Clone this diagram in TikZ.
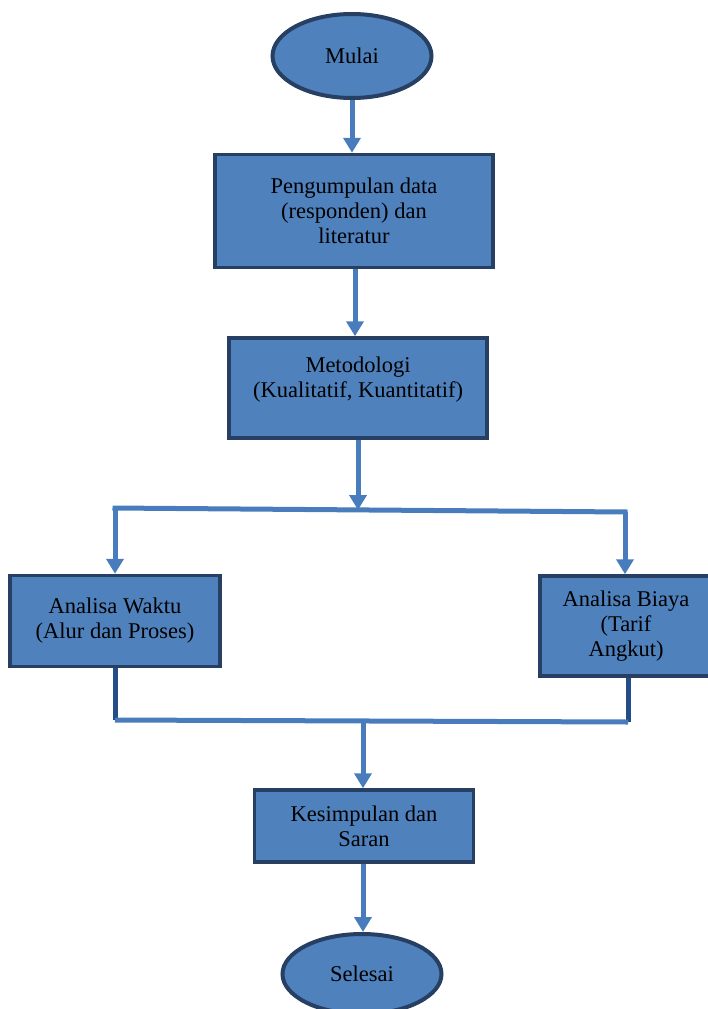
\documentclass[tikz,border=0pt]{standalone}
\usepackage{fontspec}
\setmainfont{Liberation Serif}
\usepackage{tikz}
\usetikzlibrary{arrows.meta,positioning,shapes.geometric,calc}
\definecolor{boxblue}{RGB}{79,129,189}
\definecolor{boxedge}{RGB}{38,63,99}
\definecolor{arrowblue}{RGB}{72,124,188}
\definecolor{joinblue}{RGB}{36,76,136}

\begin{document}
\begin{tikzpicture}[x=1pt,y=-1pt,
    flowbox/.style={rectangle, draw=boxedge, fill=boxblue, line width=3.5pt,
        align=center, inner sep=2pt, font=\fontsize{22.5}{25}\selectfont},
    termbox/.style={ellipse, draw=boxedge, fill=boxblue, line width=4pt,
        inner sep=0pt, font=\fontsize{22.5}{25}\selectfont},
    flowarrow/.style={draw=arrowblue, line width=5pt,
        -{Triangle[length=15pt,width=17pt]}},
    flowline/.style={draw=arrowblue, line width=5pt},
    joinline/.style={draw=joinblue, line width=5pt}]
    \useasboundingbox (0,0) rectangle (708,1009);

    % Nodes
    \node[termbox, minimum width=159pt, minimum height=84pt] (mulai) at (352,56) {Mulai};
    \node[flowbox, minimum width=278pt, minimum height=113pt] (data) at (354,211)
        {Pengumpulan data\\(responden) dan\\literatur};
    \node[flowbox, minimum width=258pt, minimum height=100pt] (metode) at (358,388)
        {Metodologi\\(Kualitatif, Kuantitatif)\\[-3pt]};
    \node[flowbox, minimum width=210pt, minimum height=91pt] (waktu) at (115,621)
        {Analisa Waktu\\(Alur dan Proses)};
    \node[flowbox, minimum width=172pt, minimum height=100pt] (biaya) at (626,626)
        {Analisa Biaya\\(Tarif\\Angkut)};
    \node[flowbox, minimum width=219pt, minimum height=72pt] (saran) at (364,826)
        {Kesimpulan dan\\Saran};
    \node[termbox, minimum width=159pt, minimum height=80pt] (selesai) at (362,974) {Selesai};

    % Split and join points
    \coordinate (splitL) at (115,508);
    \coordinate (splitM) at (358,510);
    \coordinate (splitR) at (625,512);
    \coordinate (joinL) at (115,720);
    \coordinate (joinM) at (363,721);
    \coordinate (joinR) at (628,722);

    % Arrows
    \draw[flowarrow] (mulai.south) -- (data.north -| mulai.south);
    \draw[flowarrow] ([xshift=1pt]data.south) -- ([xshift=1pt]data.south |- metode.north);
    \draw[flowarrow] (metode.south) -- (splitM);
    \draw[flowline] ([xshift=-2.5pt]splitL) -- ([xshift=2.5pt]splitR);
    \draw[flowarrow] (splitL) -- (splitL |- waktu.north);
    \draw[flowarrow] (splitR) -- (splitR |- biaya.north);
    \draw[joinline] (waktu.south) -- (joinL);
    \draw[joinline] (biaya.south -| joinR) -- (joinR);
    \draw[flowline] (joinL) -- (joinR);
    \draw[flowarrow] (joinM) -- (joinM |- saran.north);
    \draw[flowarrow] (saran.south -| joinM) -- (joinM |- selesai.north);
\end{tikzpicture}
\end{document}
